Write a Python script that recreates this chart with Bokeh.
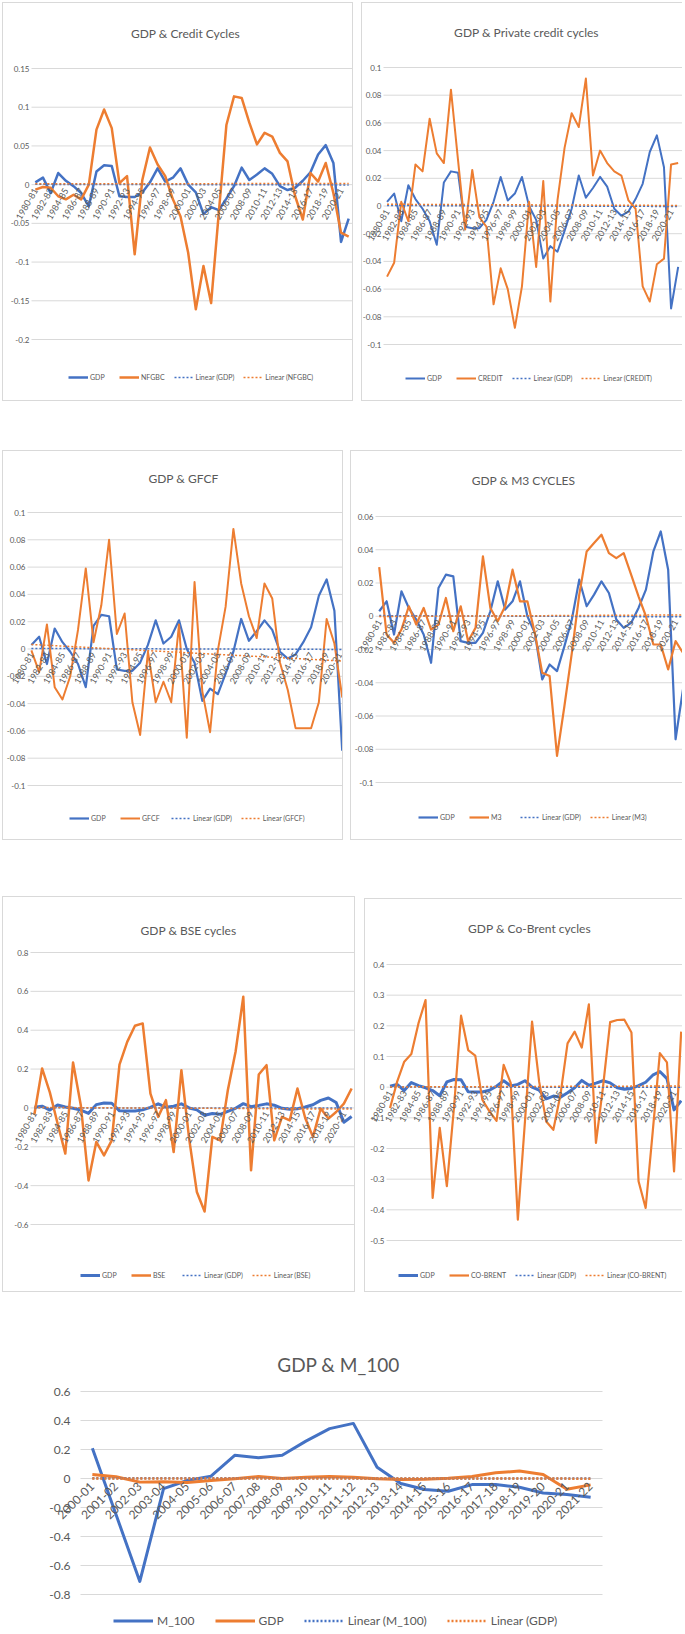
import math
import numpy as np
from bokeh.plotting import figure
from bokeh.models import FixedTicker, Legend, LegendItem, Range1d, Label
from bokeh.layouts import row, column
from bokeh.embed import file_html
from bokeh.resources import INLINE

# ---------------- data ----------------
YEARS = ["1980-81", "1981-82", "1982-83", "1983-84", "1984-85", "1985-86", "1986-87",
         "1987-88", "1988-89", "1989-90", "1990-91", "1991-92", "1992-93", "1993-94",
         "1994-95", "1995-96", "1996-97", "1997-98", "1998-99", "1999-00", "2000-01",
         "2001-02", "2002-03", "2003-04", "2004-05", "2005-06", "2006-07", "2007-08",
         "2008-09", "2009-10", "2010-11", "2011-12", "2012-13", "2013-14", "2014-15",
         "2015-16", "2016-17", "2017-18", "2018-19", "2019-20", "2020-21", "2021-22"]

GDP = [0.003, 0.009, -0.011, 0.015, 0.005, -0.002, -0.011, -0.028, 0.017, 0.025,
       0.024, -0.015, -0.016, -0.016, -0.010, 0.003, 0.021, 0.004, 0.009, 0.021,
       0.000, -0.010, -0.038, -0.029, -0.033, -0.018, -0.002, 0.022, 0.006, 0.013,
       0.021, 0.014, -0.002, -0.007, -0.004, 0.005, 0.016, 0.039, 0.051, 0.028,
       -0.074, -0.044]

NFGBC = [-0.0065, -0.003, -0.004, -0.015, -0.019, -0.013, -0.019, 0.000, 0.071, 0.097,
         0.073, 0.002, 0.011, -0.090, 0.006, 0.048, 0.026, 0.011, -0.019, -0.041,
         -0.088, -0.161, -0.105, -0.153, -0.037, 0.077, 0.114, 0.112, 0.080, 0.052,
         0.067, 0.062, 0.041, 0.030, -0.015, -0.045, 0.015, 0.004, 0.028, -0.011,
         -0.062, -0.067]

CREDIT = [-0.051, -0.041, 0.003, -0.011, 0.030, 0.025, 0.063, 0.038, 0.031, 0.084,
          0.033, -0.017, 0.026, -0.008, -0.015, -0.071, -0.045, -0.060, -0.088, -0.058,
          0.003, -0.044, 0.018, -0.069, 0.004, 0.042, 0.067, 0.057, 0.092, 0.022,
          0.040, 0.031, 0.025, 0.022, 0.004, -0.002, -0.058, -0.069, -0.042, -0.038,
          0.030, 0.031]

GFCF = [-0.001, -0.017, 0.018, -0.028, -0.037, -0.020, 0.014, 0.059, 0.005, 0.032,
        0.080, 0.011, 0.026, -0.039, -0.063, -0.002, -0.039, -0.024, -0.039, 0.018,
        -0.065, 0.049, -0.031, -0.061, -0.001, 0.031, 0.088, 0.048, 0.024, 0.008,
        0.048, 0.037, -0.010, -0.030, -0.058, -0.058, -0.058, -0.039, 0.022, 0.004,
        -0.035, 0.012]

M3 = [0.0295, -0.011, -0.016, -0.008, 0.006, -0.005, 0.005, -0.008, -0.005, 0.011,
      -0.009, 0.006, -0.015, -0.007, 0.036, 0.005, -0.003, 0.006, 0.028, 0.009,
      0.009, -0.010, -0.034, -0.036, -0.084, -0.054, -0.022, 0.013, 0.039, 0.044,
      0.049, 0.038, 0.035, 0.038, 0.025, 0.012, 0.000, -0.017, -0.017, -0.032,
      -0.015, -0.022]

BSE = [-0.034, 0.203, 0.080, -0.080, -0.235, 0.234, 0.014, -0.373, -0.175, -0.244,
       -0.167, 0.223, 0.340, 0.423, 0.435, 0.074, -0.046, 0.040, -0.227, 0.194,
       -0.158, -0.433, -0.533, -0.149, -0.167, 0.091, 0.289, 0.572, -0.321, 0.172,
       0.220, -0.167, -0.046, -0.064, 0.100, -0.052, -0.149, -0.003, -0.055, -0.021,
       0.022, 0.100]

CO_BRENT = [-0.068, 0.018, 0.083, 0.108, 0.208, 0.284, -0.361, -0.133, -0.323, -0.068,
            0.233, 0.121, 0.103, -0.041, -0.079, -0.110, 0.073, 0.013, -0.432, -0.112,
            0.214, 0.018, -0.112, -0.139, -0.025, 0.143, 0.181, 0.129, 0.270, -0.182,
            0.002, 0.212, 0.219, 0.220, 0.178, -0.307, -0.394, -0.144, 0.111, 0.081,
            -0.275, 0.181]

YEARS_M = ["2000-01", "2001-02", "2002-03", "2003-04", "2004-05", "2005-06", "2006-07",
           "2007-08", "2008-09", "2009-10", "2010-11", "2011-12", "2012-13", "2013-14",
           "2014-15", "2015-16", "2016-17", "2017-18", "2018-19", "2019-20", "2020-21",
           "2021-22"]
M_100 = [0.208, -0.25, -0.71, -0.07, -0.014, 0.016, 0.16, 0.143, 0.16, 0.258, 0.344,
         0.38, 0.078, -0.035, -0.076, -0.088, -0.042, -0.042, -0.06, -0.10, -0.11, -0.13]
GDP_M = [0.028, 0.012, -0.025, -0.023, -0.028, -0.014, -0.002, 0.014, 0.0, 0.009,
         0.014, 0.009, -0.002, -0.007, -0.005, 0.002, 0.014, 0.039, 0.051, 0.028,
         -0.074, -0.044]

YT_CREDIT = [-0.2, -0.15, -0.1, -0.05, 0, 0.05, 0.1, 0.15]
YL_CREDIT = ["-0.2", "-0.15", "-0.1", "-0.05", "0", "0.05", "0.1", "0.15"]
YT_TENTH = [-0.1, -0.08, -0.06, -0.04, -0.02, 0, 0.02, 0.04, 0.06, 0.08, 0.1]
YL_TENTH = ["-0.1", "-0.08", "-0.06", "-0.04", "-0.02", "0", "0.02", "0.04", "0.06", "0.08", "0.1"]
YT_M3 = [-0.1, -0.08, -0.06, -0.04, -0.02, 0, 0.02, 0.04, 0.06]
YL_M3 = ["-0.1", "-0.08", "-0.06", "-0.04", "-0.02", "0", "0.02", "0.04", "0.06"]
YT_BSE = [-0.6, -0.4, -0.2, 0, 0.2, 0.4, 0.6, 0.8]
YL_BSE = ["-0.6", "-0.4", "-0.2", "0", "0.2", "0.4", "0.6", "0.8"]
YT_BRENT = [-0.5, -0.4, -0.3, -0.2, -0.1, 0, 0.1, 0.2, 0.3, 0.4]
YL_BRENT = ["-0.5", "-0.4", "-0.3", "-0.2", "-0.1", "0", "0.1", "0.2", "0.3", "0.4"]
YT_M100 = [-0.8, -0.6, -0.4, -0.2, 0, 0.2, 0.4, 0.6]
YL_M100 = ["-0.8", "-0.6", "-0.4", "-0.2", "0", "0.2", "0.4", "0.6"]

# ---------------- style ----------------
FONT = "Lato"
GRAY = "#595959"
GRID = "#d9d9d9"
BLUE = "#4472C4"
ORANGE = "#ED7D31"


def trend(vals):
    x = np.arange(len(vals))
    k, b = np.polyfit(x, np.asarray(vals, dtype=float), 1)
    return (k * x + b).tolist()


def make_panel(cfg):
    W, H = cfg["size"]
    Lp, Rp, Tp, Bp = cfg["plot_px"]   # plot area inside the canvas (px)
    xend = cfg["xend"]
    ylo, yhi = cfg["yr"]
    # the frame covers the whole canvas; ranges are widened so that the
    # category/value area lands on the plot-area pixels
    sx = (Rp - Lp) / (xend + 0.5)
    x0 = -0.5 - Lp / sx
    x1 = x0 + W / sx
    u = (yhi - ylo) / (Bp - Tp)
    y1 = yhi + Tp * u
    y0 = ylo - (H - Bp) * u

    border = cfg["border"]
    styles = {}
    if border == "full":
        styles = {"border": "1px solid #d9d9d9"}
    elif border == "left":
        styles = {"border-left": "1px solid #d9d9d9", "border-top": "1px solid #d9d9d9",
                  "border-bottom": "1px solid #d9d9d9"}
    p = figure(width=W, height=H, x_range=Range1d(x0, x1), y_range=Range1d(y0, y1),
               output_backend="svg", toolbar_location=None, min_border=0,
               outline_line_color=None, margin=cfg["margin"], styles=styles)
    p.xgrid.visible = False
    p.ygrid.visible = False

    # horizontal gridlines over the plot area only
    yt, yl = cfg["yt"], cfg["yl"]
    p.segment(x0=-0.5, y0=yt, x1=xend, y1=yt, line_color=GRID, line_width=1,
              level="underlay")

    cats = cfg["cats"]
    n = len(cats)
    xs = list(range(n))
    (n1, v1), (n2, v2) = cfg["first"], cfg["second"]
    w1, w2 = cfg["widths"]
    tw = cfg["trend_w"]
    r1 = p.line(xs, v1, line_color=BLUE, line_width=w1, line_join="round")
    r2 = p.line(xs, v2, line_color=ORANGE, line_width=w2, line_join="round")
    r3 = p.line(xs, trend(v1), line_color=BLUE, line_width=tw, line_dash="2 2")
    r4 = p.line(xs, trend(v2), line_color=ORANGE, line_width=tw, line_dash="2 2")

    # category axis crossing at zero
    ticks = list(range(0, n, cfg["tick_step"]))
    xa = p.xaxis[0]
    xa.fixed_location = 0
    xa.ticker = FixedTicker(ticks=ticks)
    xa.major_label_overrides = {i: cats[i] for i in ticks}
    xa.major_label_orientation = cfg["xangle"]
    xa.major_tick_line_color = None
    xa.minor_tick_line_color = None
    xa.major_tick_out = 0
    xa.major_tick_in = 0
    xa.minor_tick_out = 0
    xa.minor_tick_in = 0
    xa.axis_line_color = None
    xa.major_label_standoff = cfg["xstand"]
    xa.major_label_text_font = FONT
    xa.major_label_text_font_size = f"{cfg['fs_x']}px"
    xa.major_label_text_color = GRAY

    # value axis at the left edge of the plot area
    ya = p.yaxis[0]
    ya.fixed_location = -0.5
    ya.ticker = FixedTicker(ticks=yt)
    ya.major_label_overrides = {v: lab for v, lab in zip(yt, yl)}
    ya.axis_line_color = None
    ya.major_tick_line_color = None
    ya.minor_tick_line_color = None
    ya.major_tick_out = 0
    ya.major_tick_in = 0
    ya.minor_tick_out = 0
    ya.minor_tick_in = 0
    ya.major_label_standoff = cfg["ystand"]
    ya.major_label_text_font = FONT
    ya.major_label_text_font_size = f"{cfg['fs_tick']}px"
    ya.major_label_text_color = GRAY

    # chart title
    cx, cy = cfg["title_c"]
    p.add_layout(Label(x=x0 + cx / sx, y=y1 - cy * u, text=cfg["title"],
                       text_align="center", text_baseline="middle", text_font=FONT,
                       text_font_size=f"{cfg['fs_title']}px", text_color=GRAY))

    lh = cfg["leg_h"]
    lx, lcy = cfg["leg_pos"]        # left edge / centre (canvas px)
    leg = Legend(items=[LegendItem(label=n1, renderers=[r1]),
                        LegendItem(label=n2, renderers=[r2]),
                        LegendItem(label=f"Linear ({n1})", renderers=[r3]),
                        LegendItem(label=f"Linear ({n2})", renderers=[r4])],
                 location=(lx, H - (lcy + lh / 2)), orientation="horizontal",
                 padding=0, margin=0, spacing=cfg["leg_spacing"],
                 glyph_width=cfg["glyph_w"], glyph_height=lh, label_height=lh,
                 label_standoff=cfg["leg_standoff"], label_text_font=FONT,
                 label_text_font_size=f"{cfg['fs_leg']}px", label_text_color=GRAY,
                 border_line_color=None, background_fill_alpha=0)
    p.add_layout(leg)
    return p


def small(title, other, yt, yl, yr, xend, size, plot_px, margin, border, widths,
          title_c, leg_pos):
    return make_panel(dict(title=title, first=("GDP", GDP), second=other, cats=YEARS,
                           tick_step=2, yt=yt, yl=yl, yr=yr, xend=xend, size=size,
                           plot_px=plot_px, margin=margin, border=border, widths=widths,
                           fs_title=12, fs_tick=8, fs_x=9, fs_leg=7,
                           xangle=math.pi / 3, glyph_w=20, ystand=2, xstand=4,
                           leg_spacing=9, leg_standoff=2, trend_w=1.5, title_c=title_c,
                           leg_pos=leg_pos, leg_h=10))


p1 = small("GDP & Credit Cycles", ("NFGBC", NFGBC), YT_CREDIT, YL_CREDIT, (-0.2, 0.15),
           41.5, (351, 399), (28, 349, 65, 336), (2, 0, 0, 2), "full", (2.5, 2.5),
           (182, 30), (65, 374))
p2 = small("GDP & Private credit cycles", ("CREDIT", CREDIT), YT_TENTH, YL_TENTH,
           (-0.1, 0.1), 41.75, (321, 399), (21, 321, 64, 341), (2, 0, 0, 8), "left",
           (2, 2), (164, 29), (43, 375))
p3 = small("GDP & GFCF", ("GFCF", GFCF), YT_TENTH, YL_TENTH, (-0.1, 0.1), 40.3,
           (341, 390), (24, 341, 61, 334), (49, 0, 0, 2), "full", (2.2, 2),
           (180, 27), (66, 367))
p4 = small("GDP & M3 CYCLES", ("M3", M3), YT_M3, YL_M3, (-0.1, 0.06), 41.07,
           (332, 390), (24, 332, 65, 331), (49, 0, 0, 7), "left", (2.2, 2.2),
           (172, 29), (67, 366))
p5 = small("GDP & BSE cycles", ("BSE", BSE), YT_BSE, YL_BSE, (-0.6, 0.8), 41.5,
           (353, 396), (27, 352, 55, 327), (56, 0, 0, 2), "full", (3, 2.5),
           (185, 33), (77, 378))
p6 = small("GDP & Co-Brent cycles", ("CO-BRENT", CO_BRENT), YT_BRENT, YL_BRENT,
           (-0.5, 0.4), 41.33, (318, 394), (21, 318, 65, 341), (58, 0, 0, 9), "left",
           (3, 2.2), (164, 29), (33, 376))

p7 = make_panel(dict(title="GDP & M_100", first=("M_100", M_100), second=("GDP", GDP_M),
                     cats=YEARS_M, tick_step=1, yt=YT_M100, yl=YL_M100, yr=(-0.8, 0.6),
                     xend=21.5, size=(685, 304), plot_px=(80, 602, 67, 270),
                     margin=(32, 0, 0, 0), border=None, widths=(3, 3), fs_title=19,
                     fs_tick=12, fs_x=12, fs_leg=12, xangle=math.pi / 4, glyph_w=40,
                     ystand=10, xstand=6, leg_spacing=20, leg_standoff=4, trend_w=2.5,
                     title_c=(338, 40), leg_pos=(113, 296), leg_h=15))

layout = column(row(p1, p2), row(p3, p4), row(p5, p6), p7)

open("out.html", "w").write(file_html(layout, INLINE))
